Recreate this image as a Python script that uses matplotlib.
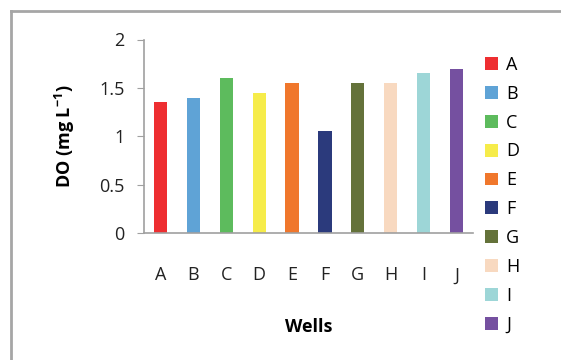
import matplotlib.pyplot as plt
from matplotlib.lines import Line2D
from matplotlib.patches import Patch

# ---------- DATA ----------
wells = ['A', 'B', 'C', 'D', 'E', 'F', 'G', 'H', 'I', 'J']
do_values = [1.35, 1.40, 1.60, 1.45, 1.55, 1.05, 1.55, 1.55, 1.65, 1.70]
colors = ['#ee2e31', '#5fa3d6', '#5dbb5d', '#f6ec4a', '#f0772c',
          '#2b3a7c', '#64723a', '#f8d9c0', '#9dd6d7', '#7550a0']

plt.rcParams['font.family'] = ['Open Sans', 'DejaVu Sans']

# ---------- PLOT ----------
fig = plt.figure(figsize=(5.61, 3.6), dpi=100)
ax = fig.add_axes([144/561, 1 - 233/360, 329/561, 193.5/360])

x = range(len(wells))
ax.bar(x, do_values, width=0.4, color=colors)

ax.set_xlim(-0.5, 9.5)
ax.set_ylim(0, 2)
ax.set_yticks([0, 0.5, 1, 1.5, 2])
ax.set_yticklabels(['0', '0.5', '1', '1.5', '2'])
ax.set_xticks(list(x))
ax.set_xticklabels(wells)

for s in ['top', 'right']:
    ax.spines[s].set_visible(False)
for s in ['left', 'bottom']:
    ax.spines[s].set_color('#a0a0a0')
    ax.spines[s].set_linewidth(1.2)

ax.tick_params(axis='y', length=5, color='#a0a0a0', pad=9, labelsize=13, labelcolor='#222222')
ax.tick_params(axis='x', length=0, pad=24, labelsize=13, labelcolor='#222222')

ax.set_ylabel('DO (mg L$^{\\mathregular{-1}}$)', fontsize=13, fontweight='bold', labelpad=16)
ax.set_xlabel('Wells', fontsize=13, fontweight='bold', labelpad=24)

handles = [Patch(facecolor=c, label=w) for c, w in zip(colors, wells)]
fig.legend(handles=handles, loc='upper left', bbox_to_anchor=(485/561, 1 - 56/360),
           frameon=False, fontsize=13, handlelength=0.72, handleheight=0.72,
           handletextpad=0.45, labelspacing=0.6, borderpad=0, borderaxespad=0)

# outer frame of the chart area (top and left edges visible)
fig.add_artist(Line2D([11/561, 1.0], [1 - 11/360, 1 - 11/360], transform=fig.transFigure,
                      color='#a6a6a6', linewidth=2))
fig.add_artist(Line2D([11/561, 11/561], [0, 1 - 11/360], transform=fig.transFigure,
                      color='#a6a6a6', linewidth=2))

fig.savefig('out.png', dpi=100)
